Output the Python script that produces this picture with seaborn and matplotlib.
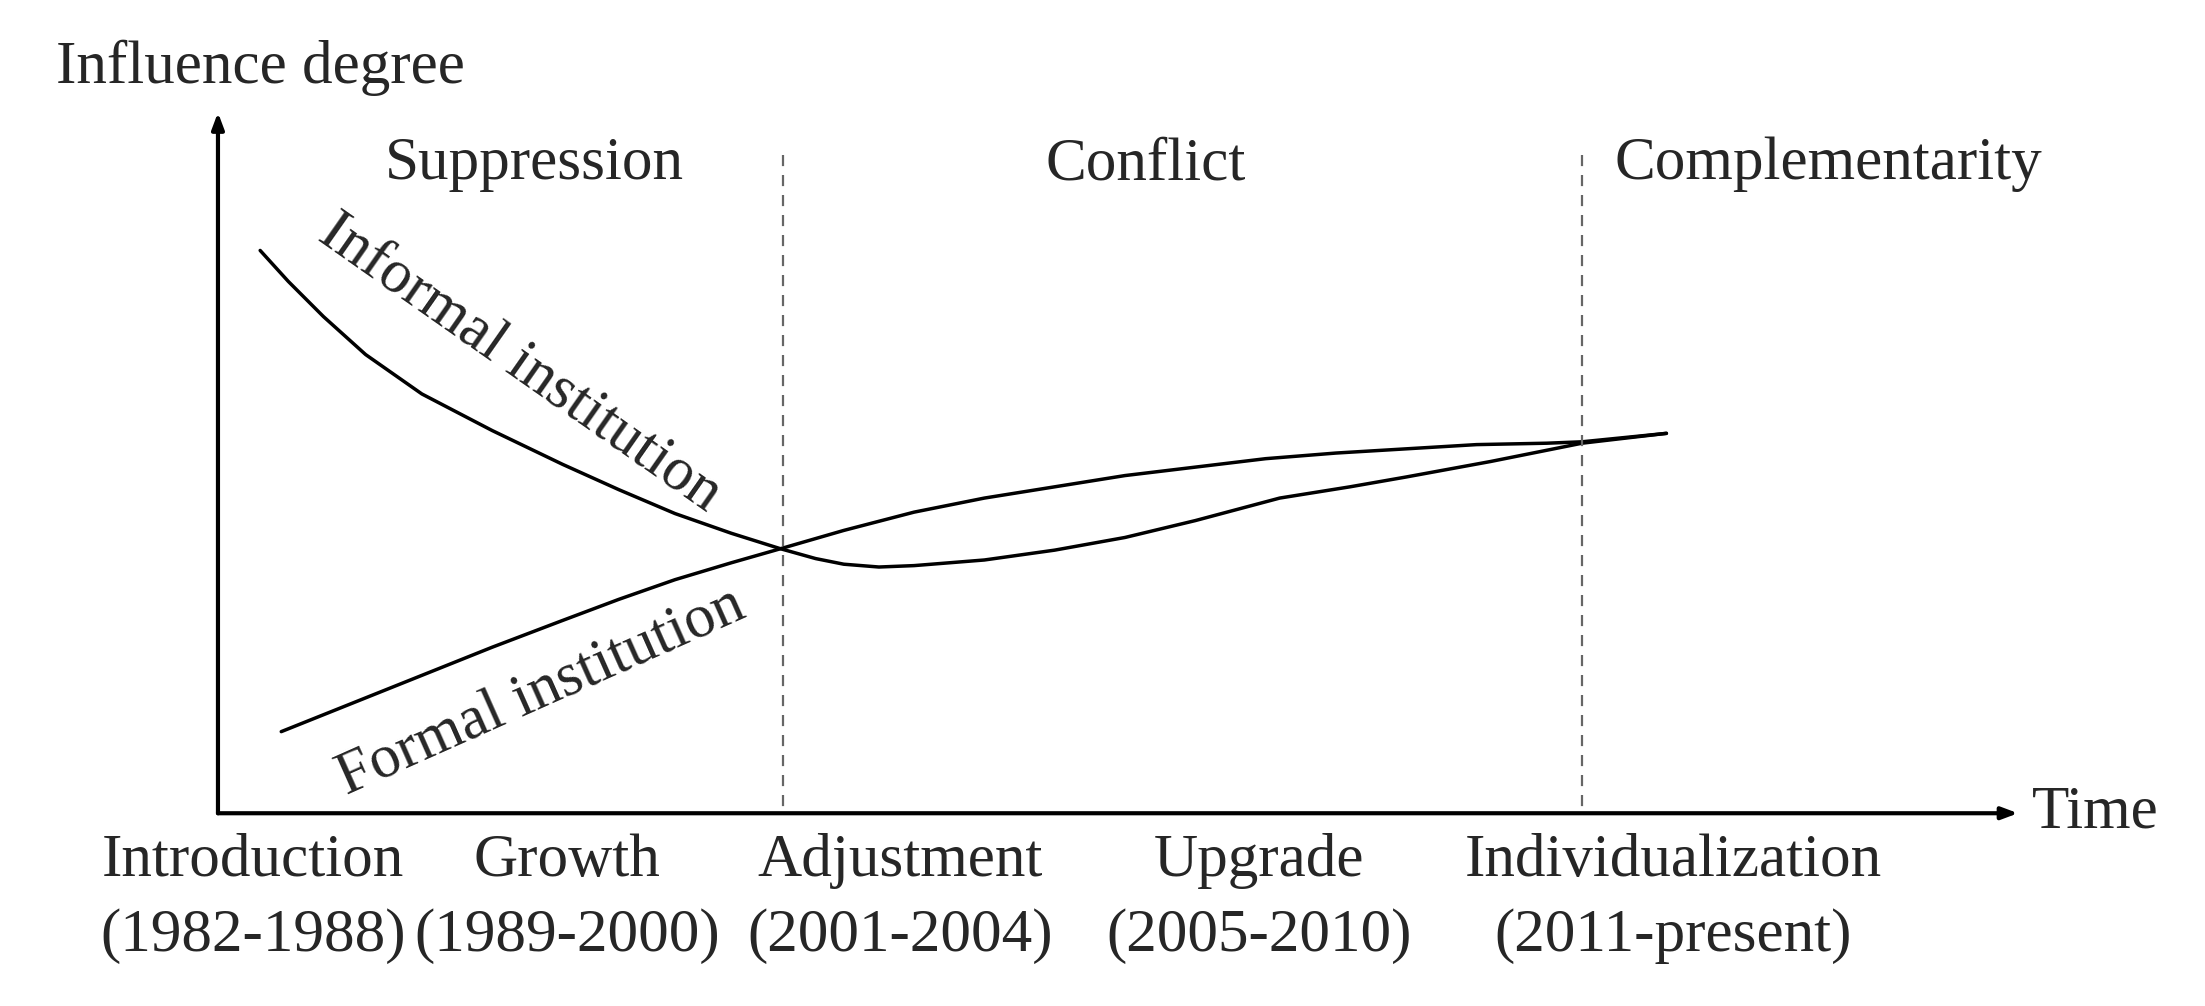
import matplotlib
matplotlib.use("Agg")
import matplotlib.pyplot as plt
import seaborn as sns

sns.set_theme(style="white")
plt.rcParams['font.family'] = ['Liberation Serif', 'DejaVu Serif']

# curves in picture units (x right, y down)
informal_x = [185, 205, 230, 260, 300, 350, 400, 440, 480, 520, 555, 580, 600, 625, 650, 700,
              750, 800, 850, 910, 960, 1000, 1060, 1125, 1185]
informal_y = [178, 200, 225, 252, 280, 306, 330, 348, 365, 379, 390, 397, 401, 403, 402, 398,
              391, 382, 370, 354, 346, 339, 328, 315, 308]
formal_x = [200, 250, 300, 350, 400, 440, 480, 520, 555, 600, 650, 700, 750, 800, 850, 900,
            950, 1000, 1050, 1100, 1125, 1185]
formal_y = [520, 500, 480, 460, 441, 426, 412, 400, 390, 377, 364, 354, 346, 338, 332, 326,
            322, 319, 316, 315, 314, 308]

phases = ["Suppression", "Conflict", "Complementarity"]
phase_x = [380, 815, 1300]
boundaries = [557, 1125]

stages = ["Introduction", "Growth", "Adjustment", "Upgrade", "Individualization"]
periods = ["(1982-1988)", "(1989-2000)", "(2001-2004)", "(2005-2010)", "(2011-present)"]
stage_x = [180, 403, 640, 895, 1190]

W, H = 1568, 715
fig = plt.figure(figsize=(22.05, 10.06), dpi=100)
ax = fig.add_axes([0, 0, 1, 1])
ax.set_xlim(0, W)
ax.set_ylim(H, 0)
ax.axis("off")

sns.lineplot(x=informal_x, y=informal_y, ax=ax, color="black", lw=2.5, sort=False)
sns.lineplot(x=formal_x, y=formal_y, ax=ax, color="black", lw=2.5, sort=False)

# axes arrows
ax.annotate("", xy=(155, 78), xytext=(155, 580),
            arrowprops=dict(arrowstyle="-|>,head_length=0.8,head_width=0.3", color="black", lw=3))
ax.annotate("", xy=(1437, 578), xytext=(153, 578),
            arrowprops=dict(arrowstyle="-|>,head_length=0.8,head_width=0.3", color="black", lw=3))

for b in boundaries:
    ax.plot([b, b], [110, 578], ls=(0, (5, 4)), color="#666666", lw=1.6)

fs = 44
ax.text(185, 48, "Influence degree", fontsize=fs, ha="center", va="center")
ax.text(1490, 578, "Time", fontsize=fs, ha="center", va="center")
for p, x in zip(phases, phase_x):
    ax.text(x, 117, p, fontsize=fs, ha="center", va="center")

ax.text(370, 258, "Informal institution", fontsize=fs, ha="center", va="center", rotation=-35)
ax.text(385, 492, "Formal institution", fontsize=fs, ha="center", va="center", rotation=24)

for s, p, x in zip(stages, periods, stage_x):
    ax.text(x, 612, s, fontsize=fs, ha="center", va="center")
    ax.text(x, 665, p, fontsize=fs, ha="center", va="center")

fig.savefig("out.png", dpi=100, facecolor="white")
